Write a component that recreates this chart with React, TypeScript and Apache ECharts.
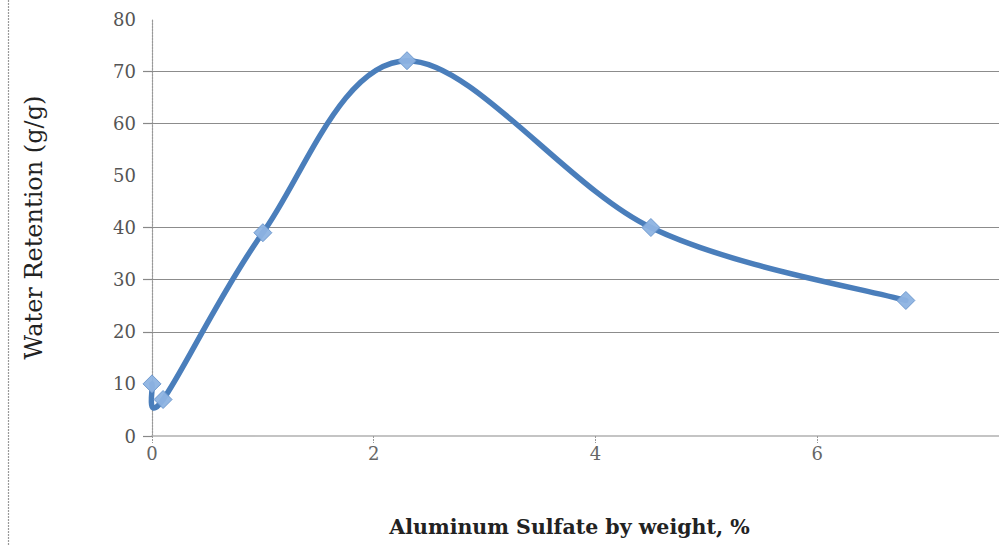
import React, { useEffect, useRef } from "react";
import * as echarts from "echarts";

const xValues = [0, 0.1, 1, 2.3, 4.5, 6.8];
const yValues = [10, 7, 39, 72, 40, 26];
const gridValues = [20, 30, 40, 60, 70];
const yTickValues = [0, 20, 30, 40, 60, 70];
const xTickValues = [0, 2, 4, 6];
const yTitle = "Water Retention (g/g)";
const xTitle = "Aluminum Sulfate by weight, %";

export default function App() {
  const ref = useRef<HTMLDivElement>(null);
  useEffect(() => {
    if (!ref.current) return;
    const chart = echarts.init(ref.current, null, { renderer: "svg" });
    const data = xValues.map((x, i) => [x, yValues[i]]);
    const n = data.length;
    chart.setOption({
      animation: false,
      backgroundColor: "#ffffff",
      grid: { left: 152, top: 19, bottom: 109, right: 0, containLabel: false },
      xAxis: {
        type: "value",
        min: 0,
        max: 7.64,
        interval: 2,
        name: xTitle,
        nameLocation: "middle",
        nameGap: 80,
        nameTextStyle: {
          fontFamily: "DejaVu Serif",
          fontWeight: "bold",
          fontSize: 20.5,
          color: "#222",
          padding: [0, 12, 0, 0],
        },
        axisLine: { show: true, lineStyle: { color: "#b0b0b0", width: 1.5 } },
        axisTick: {
          show: true,
          length: 7,
          customValues: xTickValues,
          lineStyle: { color: "#999", type: [2, 1] },
        },
        splitLine: { show: false },
        axisLabel: {
          fontFamily: "DejaVu Serif",
          fontSize: 18,
          color: "#666",
          margin: 8,
          customValues: xTickValues,
        },
      },
      yAxis: {
        type: "value",
        min: 0,
        max: 80,
        interval: 10,
        name: yTitle,
        nameLocation: "middle",
        nameGap: 106,
        nameTextStyle: {
          fontFamily: "DejaVu Serif",
          fontSize: 24,
          color: "#222",
        },
        axisLine: { show: true, lineStyle: { color: "#999", type: [2, 1], width: 1.2 } },
        axisTick: {
          show: true,
          length: 9,
          customValues: yTickValues,
          lineStyle: { color: "#888", width: 1.2 },
        },
        axisLabel: {
          fontFamily: "DejaVu Serif",
          fontSize: 18,
          color: "#555",
          margin: 16,
        },
        splitLine: { show: false },
      },
      graphic: [
        {
          type: "line",
          shape: { x1: 8.5, y1: 0, x2: 8.5, y2: 545 },
          style: { stroke: "#999", lineWidth: 1.2, lineDash: [2, 1] },
        },
      ],
      series: [
        {
          type: "custom",
          data,
          encode: { x: 0, y: 1 },
          clip: false,
          z: 2,
          renderItem: (params: any, api: any) => {
            const i = params.dataIndex;
            if (i >= n - 1) return null;
            const p = data.map((d) => api.coord(d));
            const p0 = p[Math.max(i - 1, 0)];
            const p1 = p[i];
            const p2 = p[i + 1];
            const p3 = p[Math.min(i + 2, n - 1)];
            const t = 1 / 6;
            return {
              type: "bezierCurve",
              shape: {
                x1: p1[0],
                y1: p1[1],
                x2: p2[0],
                y2: p2[1],
                cpx1: p1[0] + (p2[0] - p0[0]) * t,
                cpy1: p1[1] + (p2[1] - p0[1]) * t,
                cpx2: p2[0] - (p3[0] - p1[0]) * t,
                cpy2: p2[1] - (p3[1] - p1[1]) * t,
              },
              style: { stroke: "#4a7ebb", lineWidth: 5.5, fill: null, lineCap: "round" },
            };
          },
        },
        {
          type: "scatter",
          data,
          symbol: "diamond",
          symbolSize: 18,
          itemStyle: { color: "#8db3e2", borderColor: "#6b97cc", borderWidth: 1, opacity: 0.95 },
          z: 3,
          markLine: {
            silent: true,
            symbol: "none",
            label: { show: false },
            lineStyle: { color: "#8c8c8c", type: "solid", width: 1.2 },
            data: gridValues.map((v) => ({ yAxis: v })),
            z: 1,
          },
        },
      ],
    });
    return () => chart.dispose();
  }, []);
  return (
    <div
      ref={ref}
      style={{ position: "fixed", left: 0, top: 0, width: 999, height: 545 }}
    />
  );
}
